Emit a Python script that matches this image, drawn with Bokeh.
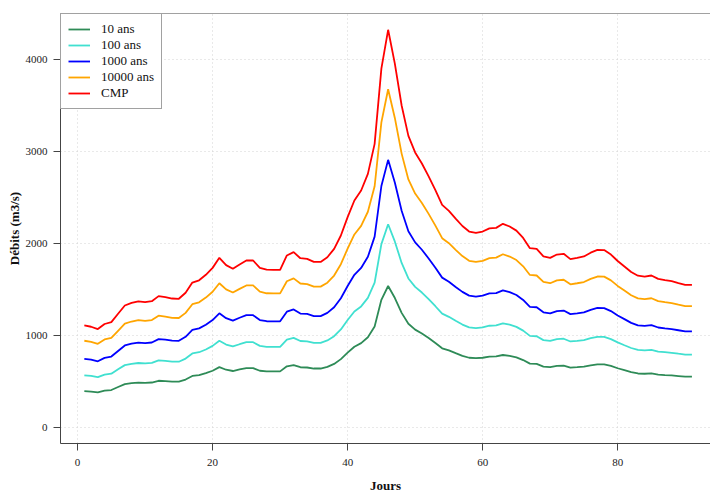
from bokeh.plotting import figure
from bokeh.models import Range1d, Legend, LegendItem, Span, FixedTicker
from bokeh.embed import file_html
from bokeh.resources import INLINE

days = list(range(1, 92))

q10 = [395, 390, 381, 400, 407, 440, 472, 482, 488, 485, 489, 508, 505, 499, 498, 521, 560, 569, 591, 617,
       656, 628, 614, 631, 646, 646, 617, 611, 610, 610, 665, 678, 655, 652, 641, 641, 659, 691, 743, 814,
       878, 917, 981, 1097, 1388, 1538, 1407, 1246, 1128, 1064, 1021, 972, 918, 861, 838, 808, 779, 758, 753, 758,
       770, 772, 788, 778, 762, 733, 694, 691, 662, 656, 669, 672, 651, 656, 662, 676, 687, 686, 669, 644,
       623, 601, 587, 584, 588, 575, 570, 566, 559, 552, 552]
q100 = [567, 560, 547, 575, 585, 632, 678, 692, 701, 696, 702, 730, 725, 716, 715, 749, 805, 818, 848, 887,
        942, 902, 881, 905, 927, 927, 887, 877, 876, 876, 956, 974, 940, 937, 920, 920, 946, 992, 1066, 1168,
        1261, 1316, 1409, 1575, 1993, 2209, 2020, 1789, 1620, 1528, 1467, 1395, 1318, 1237, 1203, 1160, 1119, 1088, 1081, 1088,
        1106, 1109, 1131, 1117, 1094, 1053, 996, 992, 950, 942, 961, 965, 935, 942, 950, 971, 986, 985, 961, 925,
        894, 864, 843, 839, 844, 825, 819, 812, 802, 793, 793]
q1000 = [746, 737, 720, 757, 771, 832, 892, 912, 923, 917, 924, 961, 954, 944, 942, 986, 1060, 1077, 1117, 1168,
         1241, 1188, 1161, 1193, 1221, 1221, 1168, 1155, 1154, 1154, 1259, 1283, 1238, 1234, 1211, 1211, 1246, 1307, 1405, 1538,
         1660, 1734, 1855, 2075, 2625, 2909, 2660, 2356, 2133, 2012, 1932, 1837, 1736, 1629, 1585, 1528, 1474, 1433, 1423, 1433,
         1457, 1460, 1490, 1471, 1440, 1386, 1312, 1307, 1252, 1241, 1265, 1271, 1232, 1241, 1251, 1279, 1299, 1298, 1265, 1218,
         1178, 1137, 1110, 1104, 1112, 1087, 1078, 1070, 1057, 1044, 1044]
q10000 = [943, 931, 910, 957, 974, 1051, 1128, 1152, 1167, 1158, 1168, 1215, 1206, 1192, 1190, 1246, 1340, 1361, 1412, 1476,
          1568, 1501, 1467, 1507, 1544, 1544, 1476, 1459, 1458, 1458, 1590, 1621, 1565, 1559, 1531, 1531, 1574, 1652, 1775, 1944,
          2098, 2191, 2345, 2622, 3317, 3677, 3362, 2977, 2696, 2543, 2441, 2322, 2194, 2058, 2003, 1931, 1863, 1812, 1799, 1812,
          1841, 1846, 1883, 1858, 1820, 1752, 1658, 1652, 1582, 1568, 1599, 1606, 1556, 1568, 1581, 1616, 1641, 1640, 1599, 1539,
          1488, 1437, 1403, 1396, 1405, 1374, 1362, 1352, 1335, 1319, 1319]
cmp_ = [1109, 1095, 1070, 1125, 1145, 1236, 1326, 1355, 1372, 1362, 1373, 1428, 1418, 1402, 1399, 1465, 1575, 1600, 1660, 1735,
        1844, 1765, 1725, 1772, 1815, 1815, 1735, 1716, 1714, 1714, 1870, 1906, 1840, 1833, 1800, 1800, 1851, 1942, 2087, 2286,
        2467, 2576, 2757, 3083, 3900, 4323, 3953, 3500, 3170, 2990, 2870, 2730, 2580, 2420, 2355, 2270, 2190, 2130, 2115, 2130,
        2165, 2170, 2214, 2185, 2140, 2060, 1949, 1942, 1860, 1844, 1880, 1888, 1830, 1844, 1859, 1900, 1930, 1928, 1880, 1810,
        1750, 1690, 1650, 1641, 1652, 1615, 1602, 1590, 1570, 1551, 1551]

series_names = ["10 ans", "100 ans", "1000 ans", "10000 ans", "CMP"]
series_values = [q10, q100, q1000, q10000, cmp_]
series_colors = ["#2E8B57", "#40E0D0", "#0000FF", "#FFA500", "#FF0000"]

x_ticks = [0, 20, 40, 60, 80]
y_ticks = [0, 1000, 2000, 3000, 4000]

FONT = "Liberation Serif"
FRAME = "#444444"

p = figure(width=710, height=495, output_backend="svg", toolbar_location=None,
           x_range=Range1d(-2.53, 93.75), y_range=Range1d(-174, 4500),
           min_border_left=60, min_border_right=0, min_border_top=13, min_border_bottom=52)
p.outline_line_color = None
p.background_fill_color = "white"
p.border_fill_color = "white"

for ax in (p.xaxis[0], p.yaxis[0]):
    ax.minor_tick_line_color = None
    ax.major_tick_in = 0
    ax.major_tick_out = 7
    ax.major_tick_line_color = FRAME
    ax.axis_line_color = FRAME
    ax.major_label_text_font = FONT
    ax.major_label_text_font_size = "11px"
    ax.major_label_text_color = "#222222"
    ax.axis_label_text_font = FONT
    ax.axis_label_text_font_size = "13px"
    ax.axis_label_text_font_style = "bold"
    ax.axis_label_text_color = "#111111"

p.xaxis.ticker = FixedTicker(ticks=x_ticks)
p.yaxis.ticker = FixedTicker(ticks=y_ticks)
p.xaxis.axis_label = "Jours"
p.yaxis.axis_label = "Débits (m3/s)"
p.xaxis.major_label_standoff = 8
p.xaxis.axis_label_standoff = 9
p.yaxis.major_label_standoff = 6
p.yaxis.axis_label_standoff = 1
p.yaxis.major_label_orientation = "horizontal"

for g in (p.xgrid[0], p.ygrid[0]):
    g.grid_line_color = "#D3D3D3"
    g.grid_line_dash = "1 3"
    g.grid_line_width = 1
p.xgrid.ticker = FixedTicker(ticks=x_ticks)
p.ygrid.ticker = FixedTicker(ticks=y_ticks)

p.add_layout(Span(location=4500, dimension="width", line_color=FRAME, line_width=1))

items = []
for name, vals, col in zip(series_names, series_values, series_colors):
    r = p.line(days, vals, line_color=col, line_width=1.8)
    items.append(LegendItem(label=name, renderers=[r]))

legend = Legend(items=items, location="top_left")
legend.margin = 0
legend.padding = 7
legend.spacing = 0
legend.glyph_width = 22
legend.glyph_height = 14
legend.label_height = 14
legend.label_standoff = 11
legend.label_text_font = FONT
legend.label_text_font_size = "13px"
legend.label_text_line_height = 1.0
legend.label_text_color = "#111111"
legend.border_line_color = FRAME
legend.border_line_width = 1
legend.background_fill_color = "white"
legend.background_fill_alpha = 1.0
p.add_layout(legend)

open("out.html", "w").write(file_html(p, INLINE))
